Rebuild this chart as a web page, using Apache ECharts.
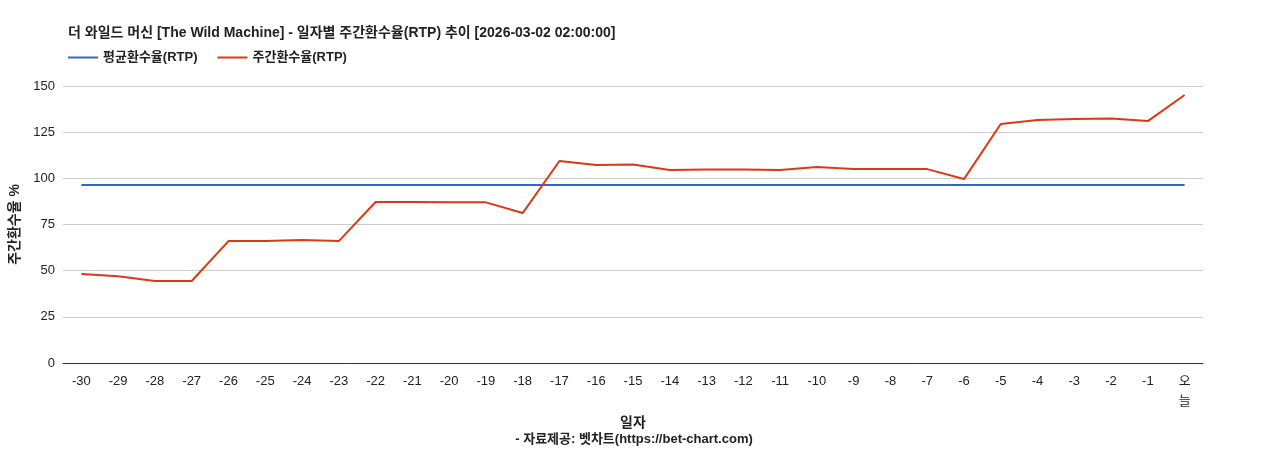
<!DOCTYPE html>
<html><head><meta charset="utf-8">
<script src="https://cdn.jsdelivr.net/npm/echarts@6/dist/echarts.min.js"></script>
<style>html,body{margin:0;padding:0;background:#fff}#c{width:1268px;height:450px}</style>
</head><body><div id="c"></div>
<script>
const categories = ['-30','-29','-28','-27','-26','-25','-24','-23','-22','-21','-20','-19','-18','-17','-16','-15','-14','-13','-12','-11','-10','-9','-8','-7','-6','-5','-4','-3','-2','-1','오\n늘'];
const weeklyRtp = [48.2,47,44.4,44.4,66,66,66.6,66,87.2,87.2,87,87,81.2,109.4,107.2,107.5,104.5,104.8,104.8,104.5,106.1,105,105,105,99.6,129.4,131.6,132.1,132.4,131,145.1];
const avgValue = 96.4;
const avgRtp = categories.map(() => avgValue);
const yTicks = [0,25,50,75,100,125,150];
const font = '"Liberation Sans", "Noto Sans CJK KR", sans-serif';
const chart = echarts.init(document.getElementById('c'));
chart.setOption({
  textStyle:{fontFamily:font},
  title:[{text:'더 와일드 머신 [The Wild Machine] - 일자별 주간환수율(RTP) 추이 [2026-03-02 02:00:00]',left:63,top:21,textStyle:{fontSize:14,fontWeight:'bold',color:'#222',fontFamily:font}},
         {text:'- 자료제공: 벳차트(https://bet-chart.com)',left:'center',top:428,textStyle:{fontSize:13,fontWeight:'bold',color:'#222',fontFamily:font}}],
  legend:{left:63,top:46,itemWidth:30,itemHeight:2,itemGap:20,icon:'rect',textStyle:{fontSize:13,fontWeight:'bold',color:'#222',fontFamily:font},data:['평균환수율(RTP)','주간환수율(RTP)']},
  grid:{left:63,right:65,top:86,bottom:87},
  xAxis:{type:'category',data:categories,boundaryGap:true,name:'일자',nameLocation:'middle',nameGap:45,
    nameTextStyle:{fontSize:14,fontWeight:'bold',color:'#222',fontFamily:font},
    axisLine:{lineStyle:{color:'#333'}},axisTick:{show:false},
    axisLabel:{fontSize:13,color:'#222',interval:0,lineHeight:20,fontFamily:font}},
  yAxis:{type:'value',min:0,max:150,interval:25,name:'주간환수율 %',nameLocation:'middle',nameGap:40,
    nameTextStyle:{fontSize:14,fontWeight:'bold',color:'#222',fontFamily:font},
    axisLine:{show:false},axisTick:{show:false},
    axisLabel:{fontSize:13,color:'#222',fontFamily:font,formatter:v=>yTicks.includes(v)?String(v):''},
    splitLine:{lineStyle:{color:'#ccc'}}},
  series:[
    {name:'평균환수율(RTP)',type:'line',data:avgRtp,symbol:'none',lineStyle:{color:'#3366cc',width:2},itemStyle:{color:'#3366cc'}},
    {name:'주간환수율(RTP)',type:'line',data:weeklyRtp,symbol:'none',lineStyle:{color:'#dc3912',width:2},itemStyle:{color:'#dc3912'}}
  ]
});
</script></body></html>
